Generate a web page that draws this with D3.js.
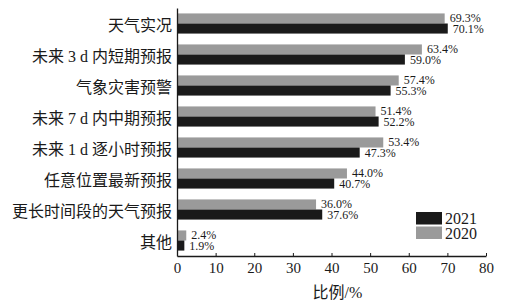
<!DOCTYPE html>
<html>
<head>
<meta charset="utf-8">
<script src="https://cdn.jsdelivr.net/npm/d3@7"></script>
<style>
  body { margin: 0; background: #fff; }
  text { font-family: "Liberation Serif", "Noto Sans CJK SC", serif; fill: #1a1a1a; }
</style>
</head>
<body>
<div id="container"></div>
<script>
/* DATA */
const categories = ["天气实况", "未来 3 d 内短期预报", "气象灾害预警", "未来 7 d 内中期预报",
  "未来 1 d 逐小时预报", "任意位置最新预报", "更长时间段的天气预报", "其他"];
const values2020 = [69.3, 63.4, 57.4, 51.4, 53.4, 44.0, 36.0, 2.4];
const values2021 = [70.1, 59.0, 55.3, 52.2, 47.3, 40.7, 37.6, 1.9];
const seriesNames = ["2020", "2021"];
const xTicks = [0, 10, 20, 30, 40, 50, 60, 70, 80];

/* CONSTANTS */
const width = 505;
const height = 303;
const mLeft = 177, mRight = 486, mTop = 8, mBottom = 256;

const svg = d3.select("#container").append("svg")
  .attr("width", width)
  .attr("height", height)

const xScale = d3.scaleLinear()
  .domain([0, 80])
  .range([mLeft, mRight])

const yScale = d3.scaleBand()
  .domain(categories)
  .range([mTop, mBottom])
  .paddingInner(0.35)
  .paddingOuter(0.175)

const inner = d3.scaleBand()
  .domain(seriesNames)
  .range([0, yScale.bandwidth()])

const colors = { "2020": "#9a9a9a", "2021": "#1a1a1a" };

const rows = categories.map((c, i) => ({ cat: c, "2020": values2020[i], "2021": values2021[i] }));

// bars
seriesNames.forEach(s => {
  svg.selectAll("rect.bar" + s)
    .data(rows)
    .join("rect")
    .attr("class", "bar" + s)
    .attr("x", mLeft)
    .attr("y", d => yScale(d.cat) + inner(s))
    .attr("width", d => xScale(d[s]) - mLeft)
    .attr("height", inner.bandwidth())
    .attr("fill", colors[s])

  svg.selectAll("text.lab" + s)
    .data(rows)
    .join("text")
    .attr("class", "lab" + s)
    .attr("x", d => xScale(d[s]) + 5)
    .attr("y", d => yScale(d.cat) + inner(s) + inner.bandwidth() / 2 + (s === "2020" ? 0.5 : 1.5))
    .attr("dominant-baseline", "middle")
    .style("font-size", "12px")
    .text(d => d[s].toFixed(1) + "%")
})

// x axis
const xAxis = d3.axisBottom(xScale)
  .tickValues(xTicks)
  .tickSizeInner(-3)
  .tickSizeOuter(0)
  .tickPadding(6)

const gx = svg.append("g")
  .attr("transform", `translate(0, ${mBottom})`)
  .call(xAxis)
gx.select(".domain").attr("stroke", "#1a1a1a").attr("stroke-width", 1.3)
gx.selectAll(".tick line").attr("stroke", "#1a1a1a")
gx.selectAll(".tick text")
  .attr("dy", "0.75em")
  .style("font-size", "15px")
  .style("font-family", "'Liberation Serif', serif")
  .attr("fill", "#1a1a1a")

// y axis
const yAxis = d3.axisLeft(yScale).tickSize(0).tickPadding(5)
const gy = svg.append("g")
  .attr("transform", `translate(${mLeft}, 0)`)
  .call(yAxis)
gy.select(".domain").attr("stroke", "#1a1a1a").attr("stroke-width", 1.3)
gy.selectAll(".tick text")
  .style("font-size", "16px")
  .style("font-family", "'Liberation Serif', 'Noto Sans CJK SC', serif")
  .attr("fill", "#1a1a1a")
  .attr("dy", "0.45em")

// axis title
svg.append("text")
  .attr("x", (mLeft + mRight) / 2 + 6)
  .attr("y", 298)
  .attr("text-anchor", "middle")
  .style("font-size", "16px")
  .text("比例/%")

// legend
const legend = ["2021", "2020"];
const lg = svg.append("g").attr("transform", "translate(416, 212)")
legend.forEach((s, i) => {
  lg.append("rect")
    .attr("x", 0)
    .attr("y", i * 14.5)
    .attr("width", 26)
    .attr("height", 12.5)
    .attr("fill", colors[s])
  lg.append("text")
    .attr("x", 29)
    .attr("y", i * 14.5 + 12)
    .style("font-size", "16px")
    .text(s)
})
</script>
</body>
</html>
